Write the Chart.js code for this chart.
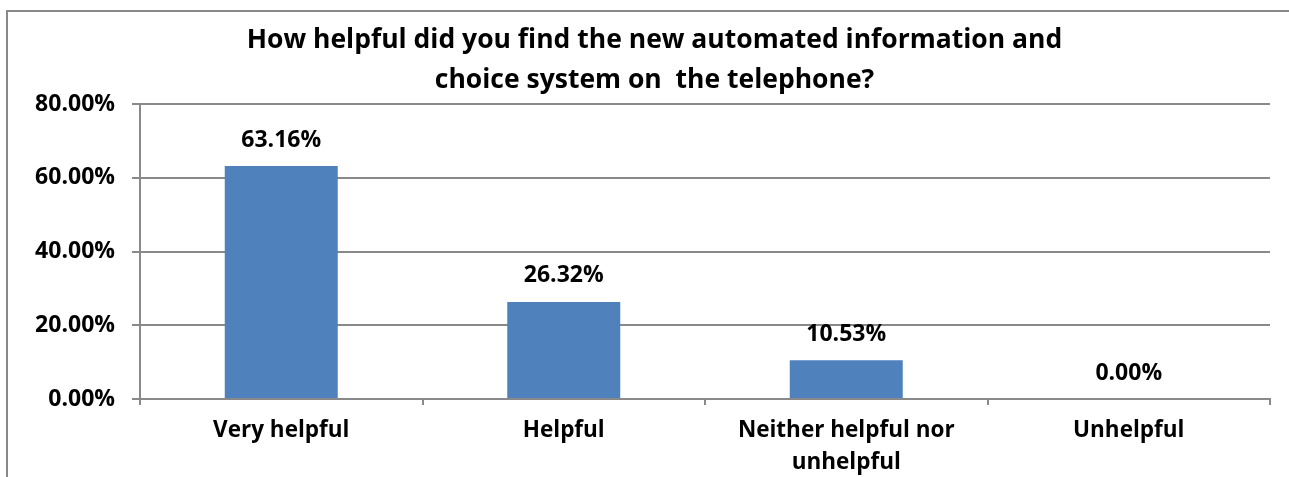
<!DOCTYPE html>
<html>
<head>
<meta charset="utf-8">
<script src="https://cdn.jsdelivr.net/npm/chart.js@4"></script>
<style>
  html, body { margin: 0; padding: 0; background: #ffffff; overflow: hidden; }
  #wrap { width: 1289px; height: 477px; }
  canvas { display: block; }
</style>
</head>
<body>
<div id="wrap"><canvas id="chart" width="1289" height="477"></canvas></div>
<script>
// data
const categories = ['Very helpful', 'Helpful', ['Neither helpful nor', 'unhelpful'], 'Unhelpful'];
const shares = [0.6316, 0.2632, 0.1053, 0.0];
const yTicks = [0, 0.2, 0.4, 0.6, 0.8];
const titleLines = ['How helpful did you find the new automated information and', 'choice system on  the telephone?'];

const FONT = '"Open Sans", Lato, sans-serif';
const GRID = '#898989';

const pct = v => (v * 100).toFixed(2) + '%';

// frame round the chart object (only top and left edges show in the crop)
const framePlugin = {
    id: 'frame',
    beforeDraw(chart) {
        const ctx = chart.ctx;
        ctx.save();
        ctx.fillStyle = '#ffffff';
        ctx.fillRect(0, 0, chart.width, chart.height);
        ctx.strokeStyle = GRID;
        ctx.lineWidth = 2;
        ctx.beginPath();
        ctx.moveTo(7, chart.height);
        ctx.lineTo(7, 11);
        ctx.lineTo(chart.width, 11);
        ctx.stroke();
        ctx.restore();
    },
    // the chart object is wider than the crop, so its title sits a bit right of centre
    afterLayout(chart) {
        chart.titleBlock.right = chart.width + 13;
    }
};

// value labels on top of every bar
const valueLabels = {
    id: 'valueLabels',
    afterDatasetsDraw(chart) {
        const ctx = chart.ctx;
        const meta = chart.getDatasetMeta(0);
        ctx.save();
        ctx.font = 'bold 23px ' + FONT;
        ctx.fillStyle = '#000000';
        ctx.textAlign = 'center';
        ctx.textBaseline = 'middle';
        meta.data.forEach((bar, i) => {
            ctx.fillText(pct(shares[i]), bar.x, bar.y - 26);
        });
        ctx.restore();
    }
};

new Chart(document.getElementById('chart'), {
    type: 'bar',
    data: {
        labels: categories,
        datasets: [{
            data: shares,
            backgroundColor: '#4F81BD',
            borderWidth: 0,
            barPercentage: 0.4,
            categoryPercentage: 1.0
        }]
    },
    options: {
        responsive: false,
        animation: false,
        layout: { padding: { left: 7, top: 10, right: 19, bottom: 0 } },
        plugins: {
            legend: { display: false },
            tooltip: { enabled: false },
            title: {
                display: true,
                text: titleLines,
                color: '#000000',
                font: { family: FONT, size: 26.5, weight: 'bold', lineHeight: 40 / 26.5 },
                padding: { top: 10, bottom: 4 }
            }
        },
        scales: {
            x: {
                afterFit(scale) { scale.height = 78; },
                grid: { offset: true, drawOnChartArea: false, drawTicks: true, tickLength: 6, color: GRID, lineWidth: 2 },
                border: { color: GRID, width: 2 },
                ticks: {
                    color: '#000000',
                    padding: 10,
                    font: { family: FONT, size: 22.5, weight: 'bold', lineHeight: 32 / 22.5 }
                }
            },
            y: {
                min: 0,
                max: 0.8,
                afterFit(scale) { scale.width = 133; },
                afterBuildTicks(scale) { scale.ticks = yTicks.map(v => ({ value: v })); },
                grid: { color: GRID, lineWidth: 2, tickLength: 8 },
                border: { color: GRID, width: 2 },
                ticks: {
                    color: '#000000',
                    padding: 17,
                    font: { family: FONT, size: 23, weight: 'bold' },
                    callback: v => pct(v)
                }
            }
        }
    },
    plugins: [framePlugin, valueLabels]
});
</script>
</body>
</html>
